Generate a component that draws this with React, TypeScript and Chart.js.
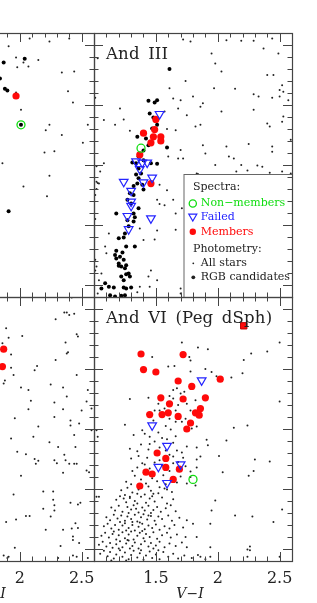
import React, { useEffect, useRef } from "react";
import { Chart, registerables } from "chart.js";
Chart.register(...registerables);

type P = [number, number];

// ---------- axes ----------
const xMin = 1.0;
const xMax = 2.6;
const yMin = 19.8;
const yMax = 24.2;
const xMinorTicks = [1.0, 1.1, 1.2, 1.3, 1.4, 1.5, 1.6, 1.7, 1.8, 1.9, 2.0, 2.1, 2.2, 2.3, 2.4, 2.5, 2.6];
const xMajorTicks = [1.0, 1.5, 2.0, 2.5];
const xTickValues = [1.5, 2.0, 2.5];
const xTickLabels = ["1.5", "2", "2.5"];
const yMinorTicks = [19.8, 20.0, 20.2, 20.4, 20.6, 20.8, 21.0, 21.2, 21.4, 21.6, 21.8, 22.0, 22.2, 22.4, 22.6, 22.8, 23.0, 23.2, 23.4, 23.6, 23.8, 24.0, 24.2];
const yMajorTicks = [20, 21, 22, 23, 24];
const xAxisTitle = "V\u2212I";

// ---------- legend ----------
const legendSpectraTitle = "Spectra:";
const legendPhotTitle = "Photometry:";
const legendLabels = ["Non\u2212members", "Failed", "Members", "All stars", "RGB candidates"];

// ---------- And III (top right) ----------
const and3Members: P[] = [
  [1.50, 21.24], [1.40, 21.47], [1.49, 21.41], [1.48, 21.53], [1.54, 21.53],
  [1.54, 21.60], [1.46, 21.63], [1.37, 21.83], [1.46, 22.31],
];
const and3NonMembers: P[] = [[1.38, 21.72]];
const and3Failed: P[] = [
  [1.53, 21.15], [1.34, 21.94], [1.39, 21.96], [1.43, 21.96], [1.37, 22.07],
  [1.47, 22.21], [1.24, 22.28], [1.40, 22.29], [1.30, 22.43], [1.30, 22.61],
  [1.30, 22.68], [1.27, 22.85], [1.46, 22.89], [1.28, 23.07],
];
const and3Rgb: P[] = [
  [1.61, 20.40], [1.44, 20.93], [1.49, 20.96], [1.51, 20.92], [1.45, 21.14],
  [1.48, 21.21], [1.51, 21.33], [1.47, 21.39], [1.35, 21.53], [1.42, 21.56],
  [1.44, 21.67], [1.59, 21.71], [1.40, 21.76], [1.36, 21.86], [1.31, 21.96],
  [1.34, 21.97], [1.40, 21.92], [1.46, 21.97], [1.51, 21.98], [1.36, 22.06],
  [1.38, 22.14], [1.34, 22.16], [1.36, 22.22], [1.35, 22.31], [1.32, 22.35],
  [1.39, 22.33], [1.40, 22.41], [1.29, 22.47], [1.32, 22.50], [1.27, 22.58],
  [1.30, 22.64], [1.36, 22.72], [1.32, 22.81], [1.18, 22.81], [1.27, 22.92],
  [1.32, 22.94], [1.33, 22.87], [1.28, 23.02], [1.24, 23.21], [1.20, 23.22],
  [1.25, 23.14], [1.26, 23.36], [1.33, 23.36], [1.17, 23.50], [1.18, 23.56],
  [1.21, 23.53], [1.24, 23.58], [1.20, 23.64], [1.22, 23.69], [1.25, 23.72],
  [1.28, 23.81], [1.22, 23.86], [1.26, 23.82], [1.12, 24.03], [1.16, 24.04],
  [1.24, 24.04], [1.26, 24.06], [1.30, 24.04], [1.06, 24.06], [1.09, 23.97],
  [1.13, 24.17], [1.17, 24.19], [1.22, 24.18], [1.25, 24.17], [1.18, 23.43],
  [1.23, 23.46], [1.20, 23.68], [1.26, 23.67], [1.29, 23.86], [1.24, 23.92],
];
const and3All: P[] = [
  [1.72, 19.91], [1.78, 19.94], [1.95, 20.14], [1.98, 20.31], [2.03, 20.44],
  [2.07, 19.92], [2.19, 19.93], [2.29, 19.93], [2.37, 20.06], [2.44, 19.89],
  [2.49, 20.14], [2.45, 20.50], [2.40, 20.50], [2.52, 20.67], [2.50, 20.75],
  [2.53, 20.78], [2.57, 20.92], [2.50, 20.86], [1.61, 20.72], [1.74, 20.60],
  [1.97, 20.72], [2.14, 20.73], [2.29, 20.82], [2.33, 20.86], [2.44, 20.88],
  [1.70, 20.92], [1.80, 20.86], [1.86, 21.03], [1.88, 20.97], [2.03, 21.11],
  [2.29, 21.08], [2.53, 21.19], [2.52, 21.28], [2.40, 21.31], [2.42, 21.36],
  [2.59, 21.58], [2.44, 21.69], [2.44, 21.78], [2.25, 21.65], [2.07, 21.69],
  [1.88, 21.67], [1.75, 21.17], [1.68, 21.06], [1.64, 20.89], [1.57, 21.11],
  [1.66, 21.42], [1.59, 21.40], [1.82, 21.36], [1.86, 21.33], [1.08, 21.25],
  [1.17, 21.33], [1.24, 21.24], [1.21, 21.06], [1.29, 21.43], [1.70, 21.75],
  [1.72, 21.89], [1.68, 21.89], [1.60, 21.86], [1.90, 21.81], [2.09, 21.86],
  [2.13, 21.89], [2.32, 22.01], [2.36, 22.03], [2.19, 22.00], [1.98, 22.00],
  [2.15, 22.11], [1.83, 22.14], [1.84, 22.15], [2.24, 22.09], [2.42, 22.13],
  [2.52, 22.11], [2.59, 22.14], [1.08, 21.97], [1.05, 22.11], [1.02, 22.28],
  [1.04, 22.31], [1.53, 22.33], [1.59, 22.42], [1.51, 22.58], [1.53, 22.65],
  [1.57, 22.67], [1.64, 22.58], [1.66, 22.81], [1.71, 22.72], [1.37, 23.06],
  [1.40, 23.25], [1.51, 23.09], [1.49, 23.24], [1.66, 23.08], [1.46, 23.76],
  [1.44, 23.86], [1.51, 23.92], [1.45, 24.03], [1.37, 24.03], [1.35, 24.12],
  [1.70, 24.06], [1.70, 24.14], [1.12, 23.14], [1.09, 23.36], [1.10, 23.47],
  [1.01, 23.58], [1.06, 23.81], [1.04, 23.92], [1.02, 23.69], [1.03, 20.22],
  [1.01, 20.88], [1.03, 22.30], [1.02, 22.40], [1.01, 22.50], [1.01, 22.90],
  [1.01, 23.76], [1.03, 24.14], [1.02, 22.02],
];

// ---------- top left panel (partly visible) ----------
const tlMembers: P[] = [[1.97, 20.85]];
const tlNonMembers: P[] = [[2.01, 21.33]];
const tlRgb: P[] = [[1.87, 20.29], [1.84, 20.56], [1.88, 20.73], [1.90, 20.76], [2.04, 20.23], [1.91, 22.77], [2.01, 21.33]];
const tlAll: P[] = [
  [1.91, 20.02], [2.08, 19.89], [2.24, 19.94], [2.40, 19.89], [1.97, 20.21],
  [2.03, 20.29], [1.98, 20.37], [2.07, 20.36], [2.15, 20.25], [2.34, 20.46],
  [2.44, 20.44], [2.39, 20.77], [2.43, 20.96], [1.97, 20.79], [2.01, 21.08],
  [2.24, 21.33], [2.21, 21.42], [2.34, 21.50], [2.55, 21.33], [2.51, 21.63],
  [2.20, 21.79], [2.28, 21.77], [1.86, 21.97], [2.24, 22.18], [2.03, 22.36],
  [2.22, 22.52],
];

// ---------- bottom left panel (partly visible) ----------
const blMembers: P[] = [[1.87, 20.67], [1.86, 20.96]];
const blAll: P[] = [
  [2.42, 19.81], [2.36, 20.06], [2.38, 20.06], [2.40, 20.10], [2.44, 20.08],
  [2.29, 20.17], [1.89, 20.32], [1.91, 20.48], [2.02, 20.45], [1.86, 20.57],
  [1.93, 20.76], [2.37, 20.56], [2.39, 20.72], [2.38, 20.74], [2.29, 20.85],
  [1.93, 20.98], [2.14, 20.95], [2.12, 21.02], [2.46, 20.42], [2.47, 20.46],
  [2.46, 21.10], [1.95, 21.10], [1.88, 21.19], [1.87, 21.24], [2.25, 21.26],
  [2.01, 21.31], [2.07, 21.35], [2.35, 21.31], [2.38, 21.46], [2.55, 21.35],
  [2.54, 21.54], [2.09, 21.53], [2.28, 21.56], [2.07, 21.67], [2.35, 21.67],
  [2.50, 21.69], [2.58, 21.66], [1.96, 21.82], [2.28, 21.80], [2.41, 21.86],
  [2.48, 21.91], [2.41, 21.94], [2.15, 21.96], [2.44, 22.10], [2.58, 22.02],
  [1.93, 22.16], [2.11, 22.13], [2.24, 22.22], [2.31, 22.30], [2.45, 22.30],
  [1.98, 22.38], [2.05, 22.42], [2.12, 22.50], [2.15, 22.53], [2.13, 22.58],
  [2.28, 22.52], [2.30, 22.57], [2.36, 22.43], [2.37, 22.52], [2.40, 22.58],
  [2.44, 22.58], [2.46, 22.58], [2.54, 22.69], [2.56, 22.72], [2.35, 22.73],
  [2.01, 22.78], [1.95, 23.09], [2.19, 23.04], [2.27, 23.04], [2.27, 23.18],
  [2.28, 23.27], [2.28, 23.36], [2.19, 23.33], [2.25, 23.46], [2.41, 23.23],
  [2.47, 23.26], [2.49, 23.23], [2.05, 23.45], [2.08, 23.45], [1.97, 23.51],
  [1.89, 23.55], [2.21, 23.68], [2.35, 23.68], [2.42, 23.66], [2.47, 23.65],
  [2.45, 23.57], [2.43, 23.79], [2.43, 23.85], [2.48, 23.90], [2.33, 23.95],
  [1.96, 23.98], [1.87, 24.11], [1.91, 24.13], [1.90, 24.15], [2.31, 24.15],
  [2.55, 24.15], [2.43, 24.11], [2.46, 24.13],
];

// ---------- And VI (bottom right) ----------
const and6Members: P[] = [
  [1.38, 20.75], [1.72, 20.76], [1.40, 21.01], [1.50, 21.05], [1.68, 21.20],
  [2.02, 21.17], [1.79, 21.29], [1.90, 21.48], [1.54, 21.48], [1.72, 21.50],
  [1.61, 21.58], [1.86, 21.66], [1.45, 21.76], [1.55, 21.76], [1.60, 21.73],
  [1.68, 21.79], [1.82, 21.73], [1.85, 21.77], [1.78, 21.90], [1.75, 22.00],
  [1.51, 22.40], [1.58, 22.49], [1.58, 22.64], [1.69, 22.67], [1.42, 22.72],
  [1.47, 22.75], [1.64, 22.84], [1.37, 22.95],
];
const and6Special: P[] = [[2.21, 20.28]];
const and6Failed: P[] = [
  [1.87, 21.19], [1.47, 21.94], [1.59, 22.28], [1.70, 22.59], [1.52, 22.63], [1.59, 22.90],
];
const and6NonMembers: P[] = [[1.80, 22.84]];
const and6All: P[] = [
  // upper, sparse
  [1.71, 20.56], [1.84, 20.64], [1.92, 20.67], [1.47, 20.80], [1.77, 20.80],
  [1.78, 20.86], [2.21, 20.85], [2.27, 20.74], [2.40, 20.71], [2.50, 20.56],
  [1.60, 20.96], [1.65, 20.95], [1.78, 21.04], [1.90, 21.00], [1.95, 21.05],
  [1.99, 21.12], [2.11, 21.14], [2.20, 21.07], [2.50, 21.54], [1.29, 21.50],
  [1.44, 21.48], [1.64, 21.35], [1.67, 21.32], [1.70, 21.41], [1.73, 21.38],
  [1.61, 21.45], [1.64, 21.49], [1.68, 21.60], [1.75, 21.58], [1.66, 21.69],
  [1.52, 21.58], [1.53, 21.69], [1.49, 21.69], [1.57, 21.66], [1.61, 21.83],
  [1.66, 21.88], [1.71, 21.88], [1.74, 21.83], [1.78, 21.69], [1.82, 21.52],
  [1.83, 21.96], [1.79, 21.99], [2.13, 21.98], [2.24, 21.94], [1.91, 22.18],
  [1.92, 22.27], [2.07, 22.19], [2.01, 22.45], [2.30, 22.51], [2.42, 22.54],
  [2.04, 22.72], [2.29, 22.70], [2.25, 22.78],
  // middle RGB
  [1.25, 21.93], [1.32, 22.10], [1.39, 22.02], [1.41, 22.08], [1.45, 22.13],
  [1.52, 22.06], [1.55, 22.15], [1.59, 22.17], [1.45, 22.25], [1.49, 22.21],
  [1.53, 22.31], [1.64, 22.23], [1.67, 22.36], [1.64, 22.46], [1.71, 22.39],
  [1.72, 22.48], [1.75, 22.29], [1.66, 22.12], [1.83, 22.31], [1.86, 22.46],
  [1.44, 22.34], [1.35, 22.37], [1.29, 22.33], [1.30, 22.49], [1.36, 22.45],
  [1.43, 22.48], [1.39, 22.57], [1.35, 22.64], [1.41, 22.59], [1.49, 22.56],
  [1.53, 22.52], [1.61, 22.70], [1.64, 22.57], [1.74, 22.62], [1.78, 22.71],
  [1.83, 22.64], [1.83, 22.51], [1.78, 22.80], [1.82, 22.94], [1.75, 22.91],
  [1.67, 22.89], [1.59, 23.01], [1.53, 22.97], [1.51, 22.87], [1.44, 22.96],
  [1.48, 23.08], [1.35, 23.08], [1.29, 23.13], [1.33, 22.78], [1.38, 22.84],
  [1.47, 22.82], [1.56, 22.77], [1.62, 22.86], [1.70, 22.79], [1.26, 22.88],
  [1.42, 22.91], [1.58, 22.92], [1.31, 22.70], [1.45, 22.66], [1.55, 22.61],
  [1.68, 22.55], [1.50, 22.40], [1.58, 22.36], [1.61, 22.43], [1.38, 22.26],
  [1.62, 22.01], [1.48, 21.86], [1.58, 21.95],
  // lower dense RGB
  [1.22, 23.02], [1.27, 22.98], [1.31, 23.06], [1.36, 23.01], [1.41, 23.09],
  [1.46, 23.03], [1.52, 23.07], [1.57, 22.99], [1.63, 23.05], [1.30, 22.92],
  [1.25, 23.10], [1.18, 23.18], [1.21, 23.12], [1.26, 23.22], [1.29, 23.15],
  [1.33, 23.20], [1.38, 23.13], [1.42, 23.23], [1.45, 23.16], [1.49, 23.21],
  [1.55, 23.14], [1.59, 23.24], [1.64, 23.17], [1.35, 23.24], [1.24, 23.16],
  [1.47, 23.12], [1.14, 23.31], [1.17, 23.36], [1.20, 23.28], [1.23, 23.38],
  [1.27, 23.30], [1.30, 23.34], [1.32, 23.27], [1.36, 23.39], [1.39, 23.31],
  [1.41, 23.36], [1.44, 23.28], [1.48, 23.35], [1.51, 23.30], [1.54, 23.38],
  [1.58, 23.32], [1.62, 23.27], [1.66, 23.37], [1.28, 23.40], [1.34, 23.33],
  [1.46, 23.40], [1.10, 23.47], [1.13, 23.52], [1.16, 23.43], [1.19, 23.49],
  [1.22, 23.44], [1.25, 23.53], [1.27, 23.46], [1.30, 23.50], [1.33, 23.43],
  [1.35, 23.54], [1.38, 23.47], [1.40, 23.42], [1.43, 23.51], [1.46, 23.45],
  [1.49, 23.53], [1.52, 23.46], [1.55, 23.50], [1.60, 23.44], [1.63, 23.53],
  [1.69, 23.48], [1.31, 23.55], [1.21, 23.55], [1.44, 23.44], [1.08, 23.62],
  [1.11, 23.58], [1.14, 23.66], [1.17, 23.60], [1.20, 23.68], [1.23, 23.61],
  [1.25, 23.57], [1.28, 23.65], [1.31, 23.60], [1.33, 23.69], [1.36, 23.63],
  [1.39, 23.58], [1.41, 23.67], [1.44, 23.61], [1.47, 23.65], [1.50, 23.59],
  [1.53, 23.68], [1.57, 23.62], [1.61, 23.66], [1.65, 23.60], [1.72, 23.64],
  [1.26, 23.69], [1.37, 23.56], [1.06, 23.78], [1.09, 23.73], [1.12, 23.81],
  [1.15, 23.75], [1.18, 23.84], [1.20, 23.77], [1.23, 23.72], [1.25, 23.82],
  [1.28, 23.76], [1.30, 23.71], [1.32, 23.84], [1.35, 23.78], [1.37, 23.73],
  [1.40, 23.82], [1.42, 23.75], [1.45, 23.80], [1.48, 23.72], [1.51, 23.83],
  [1.55, 23.77], [1.59, 23.73], [1.62, 23.81], [1.67, 23.76], [1.74, 23.80],
  [1.16, 23.71], [1.27, 23.85], [1.39, 23.70], [1.04, 23.93], [1.07, 23.88],
  [1.10, 23.96], [1.13, 23.90], [1.15, 23.98], [1.18, 23.92], [1.21, 23.87],
  [1.23, 23.97], [1.26, 23.91], [1.28, 23.86], [1.31, 23.95], [1.33, 23.89],
  [1.36, 23.99], [1.38, 23.92], [1.41, 23.87], [1.44, 23.96], [1.46, 23.90],
  [1.50, 23.94], [1.53, 23.88], [1.57, 23.97], [1.61, 23.91], [1.66, 23.95],
  [1.71, 23.89], [1.20, 23.99], [1.29, 23.99], [1.48, 23.99], [1.05, 24.08],
  [1.08, 24.03], [1.11, 24.12], [1.13, 24.05], [1.16, 24.16], [1.18, 24.09],
  [1.21, 24.02], [1.23, 24.13], [1.25, 24.06], [1.28, 24.17], [1.30, 24.10],
  [1.32, 24.03], [1.35, 24.14], [1.37, 24.07], [1.40, 24.18], [1.42, 24.11],
  [1.45, 24.04], [1.47, 24.15], [1.50, 24.09], [1.53, 24.17], [1.56, 24.05],
  [1.60, 24.13], [1.64, 24.08], [1.68, 24.16], [1.73, 24.11], [1.79, 24.15],
  [1.84, 24.10], [1.90, 24.17], [1.14, 24.19], [1.26, 24.19], [1.38, 24.02],
  [1.52, 24.02],
  // lower outliers
  [1.75, 23.97], [1.83, 23.80], [1.80, 23.58], [1.75, 23.52], [1.86, 24.13],
  [1.94, 24.13], [1.98, 23.19], [1.95, 23.36], [1.94, 23.58], [2.14, 23.44],
  [2.28, 23.46], [2.45, 23.55], [2.52, 23.34], [2.50, 24.13], [2.26, 24.02],
  [2.24, 24.13], [1.04, 23.13], [1.02, 22.02], [1.03, 22.13], [1.02, 23.13],
  [1.94, 23.97], [2.24, 24.01], [2.26, 23.96],
];

// ---------- styling ----------
const GREEN = "#10dd10";
const BLUE = "#2424ff";
const RED = "#ff0a0a";
const FRAME = "#444";
const FONT = "'DejaVu Serif', serif";

const toXY = (a: P[]) => a.map(([x, y]) => ({ x, y }));

function buildDatasets(s: { non?: P[]; failed?: P[]; members?: P[]; special?: P[]; rgb?: P[]; all?: P[] }) {
  const ds: any[] = [];
  if (s.non) ds.push({ data: toXY(s.non), pointStyle: "circle", pointRadius: 4, backgroundColor: "rgba(0,0,0,0)", borderColor: GREEN, pointBorderWidth: 1.3 });
  if (s.failed) ds.push({ data: toXY(s.failed), pointStyle: "triangle", rotation: 180, pointRadius: 5, backgroundColor: "rgba(0,0,0,0)", borderColor: BLUE, pointBorderWidth: 1.2 });
  if (s.special) ds.push({ data: toXY(s.special), pointStyle: "rect", pointRadius: 4.5, backgroundColor: RED, borderColor: "#c00000", pointBorderWidth: 1 });
  if (s.members) ds.push({ data: toXY(s.members), pointStyle: "circle", pointRadius: 3.6, backgroundColor: RED, borderColor: RED, pointBorderWidth: 0 });
  if (s.rgb) ds.push({ data: toXY(s.rgb), pointStyle: "circle", pointRadius: 2, backgroundColor: "#000", borderColor: "#000", pointBorderWidth: 0 });
  if (s.all) ds.push({ data: toXY(s.all), pointStyle: "circle", pointRadius: 1, backgroundColor: "#222", borderColor: "#222", pointBorderWidth: 0 });
  return ds;
}

type PanelDef = {
  key: string;
  left: number;
  top: number;
  title?: string;
  legend?: boolean;
  bottomAxis?: boolean;
  sets: any;
};

const PW = 198;
const PH = 264;
const PAD = { left: 12, right: 12, top: 12, bottom: 46 };

const panels: PanelDef[] = [
  { key: "tl", left: -104, top: 33, sets: { non: tlNonMembers, members: tlMembers, rgb: tlRgb, all: tlAll } },
  { key: "tr", left: 94, top: 33, title: "And III", legend: true, sets: { non: and3NonMembers, failed: and3Failed, members: and3Members, rgb: and3Rgb, all: and3All } },
  { key: "bl", left: -104, top: 297, bottomAxis: true, sets: { members: blMembers, all: blAll } },
  { key: "br", left: 94, top: 297, title: "And VI (Peg dSph)", bottomAxis: true, sets: { non: and6NonMembers, failed: and6Failed, special: and6Special, members: and6Members, all: and6All } },
];

function drawLegend(ctx: CanvasRenderingContext2D, a: any) {
  const bx = a.left + 89.5;
  const by = a.top + 141;
  const bw = a.right - bx;
  const bh = a.bottom - by;
  ctx.fillStyle = "#fff";
  ctx.fillRect(bx, by, bw, bh);
  ctx.strokeStyle = "#666";
  ctx.lineWidth = 1;
  ctx.strokeRect(bx + 0.5, by + 0.5, bw, bh);
  ctx.font = `11px ${FONT}`;
  ctx.textBaseline = "middle";
  ctx.textAlign = "left";
  const sx = bx + 9.3;
  const tx = bx + 17.3;
  ctx.fillStyle = "#222";
  ctx.fillText(legendSpectraTitle, bx + 9.5, by + 13.5);
  ctx.strokeStyle = GREEN;
  ctx.lineWidth = 1.3;
  ctx.beginPath();
  ctx.arc(sx, by + 29.5, 3.6, 0, Math.PI * 2);
  ctx.stroke();
  ctx.fillStyle = GREEN;
  ctx.fillText(legendLabels[0], tx, by + 29.5);
  ctx.strokeStyle = BLUE;
  ctx.lineWidth = 1.2;
  const ty = by + 43;
  ctx.beginPath();
  ctx.moveTo(sx - 4, ty - 2.8);
  ctx.lineTo(sx + 4, ty - 2.8);
  ctx.lineTo(sx, ty + 4);
  ctx.closePath();
  ctx.stroke();
  ctx.fillStyle = BLUE;
  ctx.fillText(legendLabels[1], tx, by + 43.5);
  ctx.fillStyle = RED;
  ctx.beginPath();
  ctx.arc(sx, by + 57.7, 3.2, 0, Math.PI * 2);
  ctx.fill();
  ctx.fillText(legendLabels[2], tx, by + 57.7);
  ctx.fillStyle = "#222";
  ctx.fillText(legendPhotTitle, bx + 9.5, by + 75);
  ctx.beginPath();
  ctx.arc(sx + 0.5, by + 89.3, 0.9, 0, Math.PI * 2);
  ctx.fill();
  ctx.fillText(legendLabels[3], tx, by + 89.3);
  ctx.beginPath();
  ctx.arc(sx + 0.5, by + 103.3, 1.9, 0, Math.PI * 2);
  ctx.fill();
  ctx.fillText(legendLabels[4], tx, by + 103.3);
}

function makeDeco(p: PanelDef) {
  return {
    id: "deco_" + p.key,
    afterDatasetsDraw(chart: any) {
      const ctx: any = chart.ctx;
      const a = chart.chartArea;
      const xs = chart.scales.x;
      const ys = chart.scales.y;
      ctx.save();
      if (p.legend) drawLegend(ctx, a);
      ctx.strokeStyle = FRAME;
      ctx.lineWidth = 1;
      ctx.beginPath();
      for (const v of xMinorTicks) {
        const px = Math.round(xs.getPixelForValue(v)) + 0.5;
        const len = xMajorTicks.some((m) => Math.abs(m - v) < 1e-6) ? 9 : 4.5;
        ctx.moveTo(px, a.top);
        ctx.lineTo(px, a.top + len);
        ctx.moveTo(px, a.bottom);
        ctx.lineTo(px, a.bottom - len);
      }
      for (const v of yMinorTicks) {
        const py = Math.round(ys.getPixelForValue(v)) + 0.5;
        const len = yMajorTicks.some((m) => Math.abs(m - v) < 1e-6) ? 9 : 4.5;
        ctx.moveTo(a.left, py);
        ctx.lineTo(a.left + len, py);
        ctx.moveTo(a.right, py);
        ctx.lineTo(a.right - len, py);
      }
      ctx.stroke();
      ctx.lineWidth = 1.2;
      ctx.strokeRect(a.left + 0.5, a.top + 0.5, a.right - a.left, a.bottom - a.top);
      if (p.title) {
        ctx.fillStyle = "#222";
        ctx.font = `16.5px ${FONT}`;
        ctx.textAlign = "left";
        ctx.textBaseline = "alphabetic";
        ctx.letterSpacing = "0.2px";
        ctx.wordSpacing = "3px";
        ctx.fillText(p.title, a.left + 12, a.top + 25.5);
        ctx.letterSpacing = "0px";
        ctx.wordSpacing = "0px";
      }
      if (p.bottomAxis) {
        ctx.fillStyle = "#222";
        ctx.font = `16px ${FONT}`;
        ctx.textAlign = "center";
        ctx.textBaseline = "middle";
        xTickValues.forEach((v, i) => {
          ctx.fillText(xTickLabels[i], xs.getPixelForValue(v), a.bottom + 17.5);
        });
        ctx.font = `italic 14px ${FONT}`;
        ctx.fillText(xAxisTitle, (a.left + a.right) / 2 - 3, a.bottom + 33);
      }
      ctx.restore();
    },
  };
}

function Panel({ p }: { p: PanelDef }) {
  const ref = useRef<HTMLCanvasElement>(null);
  useEffect(() => {
    if (!ref.current) return;
    const chart = new Chart(ref.current, {
      type: "scatter",
      data: { datasets: buildDatasets(p.sets) },
      options: {
        animation: false,
        responsive: false,
        events: [],
        layout: { padding: PAD },
        plugins: { legend: { display: false }, tooltip: { enabled: false } },
        scales: {
          x: { type: "linear", min: xMin, max: xMax, bounds: "data", display: false },
          y: { type: "linear", min: yMin, max: yMax, reverse: true, bounds: "data", display: false },
        },
      },
      plugins: [makeDeco(p)],
    });
    return () => chart.destroy();
  }, [p]);
  const w = PW + PAD.left + PAD.right;
  const h = PH + PAD.top + PAD.bottom;
  return (
    <canvas
      ref={ref}
      width={w}
      height={h}
      style={{ position: "absolute", left: p.left - PAD.left, top: p.top - PAD.top, width: w, height: h }}
    />
  );
}

export default function App() {
  return (
    <div style={{ position: "absolute", left: 0, top: 0, width: 317, height: 603, overflow: "hidden", background: "#fff" }}>
      {panels.map((p) => (
        <Panel key={p.key} p={p} />
      ))}
    </div>
  );
}
